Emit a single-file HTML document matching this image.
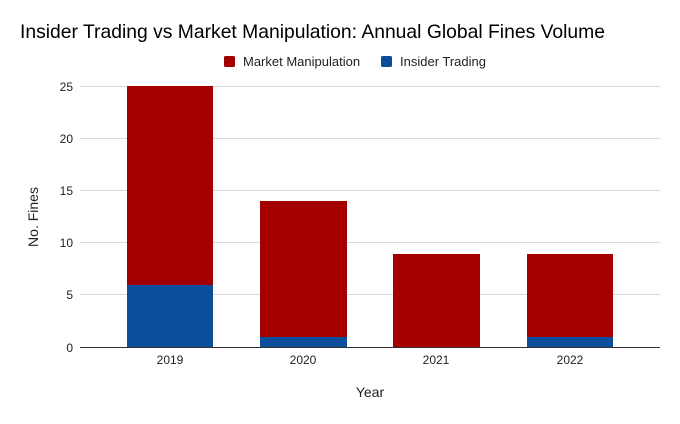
<!DOCTYPE html>
<html><head><style>body{margin:0;background:#fff}</style></head><body>
<svg width="680" height="419" xmlns="http://www.w3.org/2000/svg" font-family="Liberation Sans, Arial, sans-serif">
<rect width="680" height="419" fill="#fff"/>
<text x="20" y="38" font-size="19.5" fill="#000" textLength="585" lengthAdjust="spacingAndGlyphs">Insider Trading vs Market Manipulation: Annual Global Fines Volume</text>
<rect x="224" y="56" width="11" height="11" rx="1.5" fill="#a50000"/>
<text x="243" y="66" font-size="13" fill="#222">Market Manipulation</text>
<rect x="381" y="56" width="11" height="11" rx="1.5" fill="#0b4f9c"/>
<text x="400" y="66" font-size="13" fill="#222">Insider Trading</text>
<g stroke="#d9d9d9" stroke-width="1">
<line x1="80" x2="660" y1="86.5" y2="86.5"/>
<line x1="80" x2="660" y1="138.5" y2="138.5"/>
<line x1="80" x2="660" y1="190.5" y2="190.5"/>
<line x1="80" x2="660" y1="242.5" y2="242.5"/>
<line x1="80" x2="660" y1="294.5" y2="294.5"/>
</g>
<g font-size="12" fill="#222" text-anchor="end">
<text x="73" y="91">25</text><text x="73" y="143">20</text><text x="73" y="195">15</text>
<text x="73" y="247">10</text><text x="73" y="299">5</text><text x="73" y="352">0</text>
</g>
<rect x="127" y="86" width="86" height="199" fill="#a50000"/>
<rect x="127" y="285" width="86" height="62" fill="#0b4f9c"/>
<rect x="260" y="201" width="87" height="136" fill="#a50000"/>
<rect x="260" y="337" width="87" height="10" fill="#0b4f9c"/>
<rect x="393" y="254" width="87" height="93" fill="#a50000"/>
<rect x="527" y="254" width="86" height="83" fill="#a50000"/>
<rect x="527" y="337" width="86" height="10" fill="#0b4f9c"/>
<line x1="80" x2="660" y1="347.5" y2="347.5" stroke="#333" stroke-width="1"/>
<g font-size="12" fill="#222" text-anchor="middle">
<text x="170" y="364">2019</text><text x="303" y="364">2020</text><text x="436" y="364">2021</text><text x="570" y="364">2022</text>
</g>
<text x="370" y="397" font-size="14" fill="#222" text-anchor="middle">Year</text>
<text transform="translate(38,217) rotate(-90)" font-size="14" fill="#222" text-anchor="middle">No. Fines</text>
</svg>
</body></html>
